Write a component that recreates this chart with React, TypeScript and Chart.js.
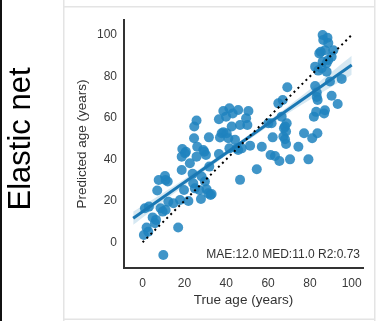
import React, { useEffect, useRef } from "react";
import { Chart, registerables } from "chart.js";

Chart.register(...registerables);

// True age (x) and predicted age (y) for each sample
const trueAge = [
  9.9, 0.6, 1.9, 2.7, 1.1, 3.0, 4.8, 6.4, 5.9, 7.0, 7.7, 10.7, 11.0, 12.0, 8.6, 9.6, 11.0, 12.3, 14.7, 17.0,
  17.9, 18.7, 19.0, 18.7, 20.3, 20.7, 19.8, 21.9, 22.6, 23.9, 24.2, 25.0, 24.6, 24.7, 25.8, 25.8, 26.1, 27.1, 27.9, 28.2,
  29.0, 29.5, 29.8, 30.3, 30.6, 31.4, 31.7, 31.9, 32.5, 33.0, 36.5, 36.5, 37.0, 37.8, 38.6, 40.2, 41.0, 41.5, 38.6, 39.9,
  41.5, 42.6, 43.1, 44.2, 45.0, 45.7, 45.7, 46.6, 46.6, 47.4, 49.5, 50.1, 50.6, 51.4, 54.6, 57.0, 60.1, 61.2, 61.7, 62.2,
  63.3, 65.4, 64.9, 66.5, 67.0, 67.3, 67.6, 68.1, 68.6, 68.9, 68.1, 68.6, 69.2, 70.5, 74.5, 77.2, 79.3, 81.1, 81.9, 82.5,
  82.5, 83.0, 83.3, 83.3, 83.6, 83.7, 84.0, 84.5, 85.2, 85.6, 86.1, 86.1, 86.4, 86.8, 87.2, 87.2, 88.0, 88.4, 88.8, 88.0,
  89.6, 88.8, 90.4, 91.2, 90.4, 93.3, 95.2
];
const predictedAge = [
  -6.1, 3.5, 7.1, 5.1, 16.4, 17.2, 12.0, 10.8, 9.2, 25.0, 30.0, 32.0, 30.0, 29.3, 16.4, 14.8, 15.6, 19.6, 18.8, 7.1,
  20.4, 34.9, 45.0, 41.3, 42.9, 43.7, 25.2, 19.9, 38.1, 33.0, 28.5, 26.0, 50.2, 55.8, 58.7, 41.3, 46.1, 25.2, 20.9, 31.7,
  44.5, 43.7, 29.3, 42.1, 25.6, 23.6, 50.6, 36.5, 22.8, 23.3, 59.3, 42.6, 50.5, 52.6, 53.1, 52.6, 50.2, 45.3, 63.3, 60.6,
  64.6, 55.8, 62.1, 49.4, 45.3, 63.8, 44.5, 30.1, 56.6, 45.3, 59.8, 56.6, 63.3, 46.6, 35.2, 46.1, 57.4, 42.1, 57.4, 50.6,
  41.6, 39.2, 67.0, 60.6, 68.6, 51.0, 55.0, 55.8, 53.4, 57.4, 49.7, 47.4, 74.8, 40.0, 46.1, 52.6, 40.0, 50.2, 60.6, 75.4,
  84.7, 62.9, 70.1, 72.2, 52.6, 68.6, 82.8, 91.1, 91.9, 83.9, 87.1, 100.0, 97.6, 62.1, 63.7, 92.6, 86.3, 98.6, 96.1, 82.3,
  77.5, 87.9, 70.7, 92.6, 89.5, 66.7, 78.8
];

// Regression fit line and its confidence band
const fitX = [-4.5, 100];
const fitY = [11.6, 85.5];
const bandX = [-4.5, 10, 25, 40, 55, 70, 85, 100];
const bandLower = [8.4, 19.7, 30.9, 41.8, 52.4, 62.5, 71.8, 80.8];
const bandUpper = [14.8, 23.9, 33.9, 44.2, 54.8, 65.9, 77.8, 90.0];

// Identity reference line
const identityX = [0, 100];
const identityY = [0, 100];

const xTicks = [0, 20, 40, 60, 80, 100];
const yTicks = [0, 20, 40, 60, 80, 100];

const rowLabel = "Elastic net";
const xTitle = "True age (years)";
const yTitle = "Predicted age (years)";
const metricsText = "MAE:12.0 MED:11.0 R2:0.73";

const FONT = "'Liberation Sans', Arial, sans-serif";

export default function App() {
  const canvasRef = useRef<HTMLCanvasElement | null>(null);

  useEffect(() => {
    document.body.style.margin = "0";
    const canvas = canvasRef.current;
    if (!canvas) return;

    const decorPlugin = {
      id: "decor",
      beforeDraw(chart: any) {
        const ctx = chart.ctx;
        ctx.save();
        ctx.fillStyle = "#ffffff";
        ctx.fillRect(0, 0, chart.width, chart.height);
        // panel borders
        ctx.fillStyle = "#111111";
        ctx.fillRect(0, 0, 2, chart.height);
        ctx.fillStyle = "#e4e4e4";
        ctx.fillRect(63, 0, 1.5, chart.height);
        ctx.fillRect(374, 0, 1.5, chart.height);
        ctx.fillRect(63, 6, 312, 1.5);
        ctx.fillRect(63, 318.5, 312, 1.5);
        ctx.restore();
      },
      afterDraw(chart: any) {
        const ctx = chart.ctx;
        const area = chart.chartArea;
        ctx.save();
        ctx.fillStyle = "#333333";
        ctx.font = `12px ${FONT}`;
        ctx.textAlign = "right";
        ctx.textBaseline = "middle";
        ctx.fillText(metricsText, area.right - 3, area.bottom - 13);

        ctx.translate(21, 139);
        ctx.rotate(-Math.PI / 2);
        ctx.fillStyle = "#000000";
        ctx.font = `31px ${FONT}`;
        ctx.textAlign = "center";
        ctx.textBaseline = "middle";
        ctx.fillText(rowLabel, 0, 0);
        ctx.restore();
      },
    };

    const pointColor = "rgba(30,130,190,0.85)";
    const lineColor = "#1a78b4";

    const chart = new Chart(canvas, {
      type: "scatter",
      data: {
        datasets: [
          {
            type: "line",
            label: "identity",
            data: identityX.map((x, i) => ({ x, y: identityY[i] })),
            borderColor: "#000000",
            borderWidth: 2,
            borderDash: [2, 3.6],
            pointRadius: 0,
            fill: false,
            order: 0,
          } as any,
          {
            type: "line",
            label: "fit",
            data: fitX.map((x, i) => ({ x, y: fitY[i] })),
            borderColor: lineColor,
            borderWidth: 3,
            pointRadius: 0,
            fill: false,
            order: 1,
          } as any,
          {
            type: "line",
            label: "upper",
            data: bandX.map((x, i) => ({ x, y: bandUpper[i] })),
            borderWidth: 0,
            borderColor: "rgba(0,0,0,0)",
            pointRadius: 0,
            tension: 0.3,
            fill: false,
            order: 2,
          } as any,
          {
            type: "line",
            label: "lower",
            data: bandX.map((x, i) => ({ x, y: bandLower[i] })),
            borderWidth: 0,
            borderColor: "rgba(0,0,0,0)",
            backgroundColor: "rgba(25,125,185,0.18)",
            pointRadius: 0,
            tension: 0.3,
            fill: "-1",
            order: 2,
          } as any,
          {
            label: "samples",
            data: trueAge.map((x, i) => ({ x, y: predictedAge[i] })),
            backgroundColor: pointColor,
            borderWidth: 0,
            pointRadius: 5,
            order: 3,
          },
        ],
      },
      options: {
        responsive: false,
        animation: false,
        devicePixelRatio: 1,
        layout: { padding: { left: 70, top: 20, right: 15, bottom: 0 } },
        plugins: {
          legend: { display: false },
          tooltip: { enabled: false },
        },
        scales: {
          x: {
            type: "linear",
            min: -8.9,
            max: 105.4,
            grid: { display: false, drawTicks: false },
            border: { display: true, color: "#333333", width: 2 },
            afterBuildTicks: (scale: any) => {
              scale.ticks = xTicks.map((v) => ({ value: v }));
            },
            afterFit: (scale: any) => {
              scale.height = 53;
            },
            ticks: {
              padding: 8,
              color: "#3a3a3a",
              font: { family: FONT, size: 12 },
              maxRotation: 0,
            },
            title: {
              display: true,
              text: xTitle,
              color: "#333333",
              font: { family: FONT, size: 13.5 },
              padding: { top: 0, bottom: 13 },
            },
          },
          y: {
            type: "linear",
            min: -12.4,
            max: 107.2,
            grid: { display: false, drawTicks: false },
            border: { display: true, color: "#333333", width: 2 },
            afterBuildTicks: (scale: any) => {
              scale.ticks = yTicks.map((v) => ({ value: v }));
            },
            afterFit: (scale: any) => {
              scale.width = 54;
            },
            ticks: {
              padding: 7,
              color: "#3a3a3a",
              font: { family: FONT, size: 12 },
            },
            title: {
              display: true,
              text: yTitle,
              color: "#333333",
              font: { family: FONT, size: 13.5 },
              padding: { top: 4, bottom: 0 },
            },
          },
        },
      },
      plugins: [decorPlugin],
    });

    return () => {
      chart.destroy();
    };
  }, []);

  return (
    <div style={{ position: "absolute", left: 0, top: 0, width: 378, height: 321 }}>
      <canvas ref={canvasRef} width={378} height={321} style={{ width: 378, height: 321, display: "block" }} />
    </div>
  );
}
